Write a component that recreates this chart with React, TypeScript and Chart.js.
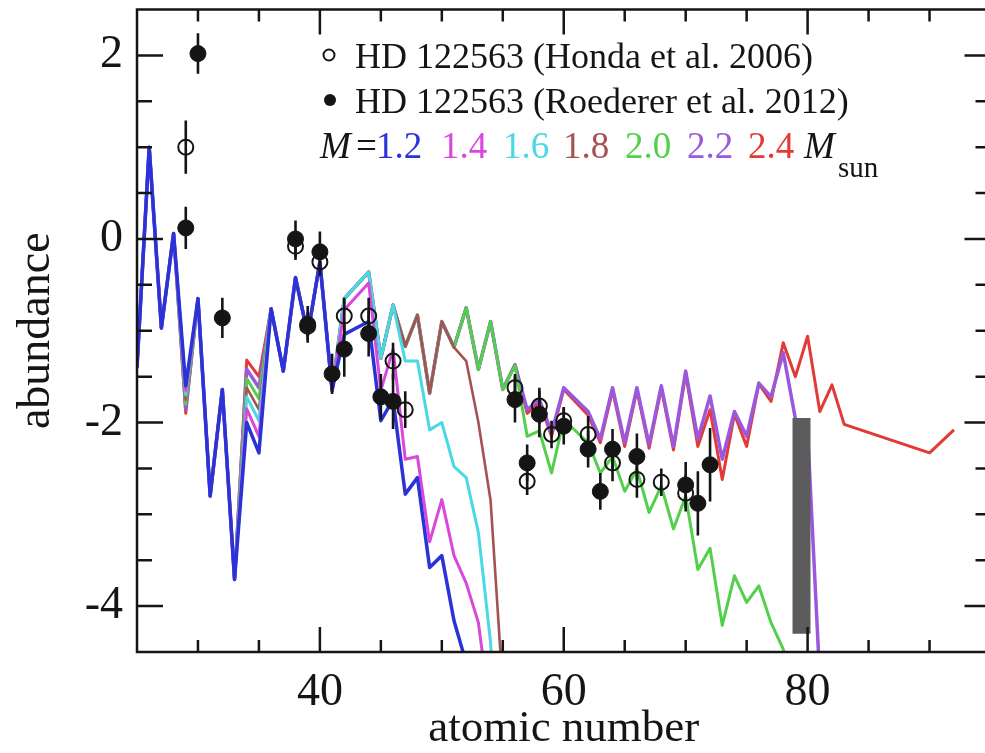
import React, { useEffect, useRef } from "react";
import { Chart, registerables } from "chart.js";

Chart.register(...registerables);

const SERIF = "'Liberation Serif', 'Times New Roman', serif";
const INK = "#151515";

// ---- axis ticks ----
const xMajorTicks = [40, 60, 80];
const xMinorTicks = [30, 35, 45, 50, 55, 65, 70, 75, 85, 90];
const yMajorTicks = [-4, -2, 0, 2];
const yMinorTicks = [-3.5, -3, -2.5, -1.5, -1, -0.5, 0.5, 1, 1.5];

// ---- observations: HD 122563 ----
const hondaZ = [29, 38, 39, 40, 42, 44, 46, 47, 56, 57, 58, 59, 60, 62, 64, 66, 68, 70];
const hondaY = [1.0, -0.08, -0.95, -0.25, -0.84, -0.84, -1.33, -1.86, -1.62, -2.64, -1.82, -2.13, -1.98, -2.13, -2.44, -2.62, -2.65, -2.77];
const hondaErr = [0.29, 0.15, 0.15, 0.15, 0.2, 0.2, 0.2, 0.2, 0.15, 0.15, 0.2, 0.15, 0.15, 0.2, 0.2, 0.2, 0.15, 0.2];

const roedZ = [29, 30, 32, 38, 39, 40, 41, 42, 44, 45, 46, 56, 57, 58, 60, 62, 63, 64, 66, 70, 71, 72];
const roedY = [0.12, 2.02, -0.86, 0.0, -0.93, -0.14, -1.47, -1.2, -1.03, -1.72, -1.77, -1.75, -2.44, -1.91, -2.04, -2.29, -2.75, -2.29, -2.37, -2.68, -2.88, -2.46];
const roedErr = [0.23, 0.22, 0.22, 0.2, 0.2, 0.22, 0.22, 0.3, 0.25, 0.25, 0.3, 0.25, 0.2, 0.25, 0.2, 0.2, 0.2, 0.22, 0.25, 0.25, 0.35, 0.4];

// ---- model curves (atomic number, abundance) ----
const zM12 = [25, 26, 27, 28, 29, 30, 31, 32, 33, 34, 35, 36, 37, 38, 39, 40, 41, 42, 44, 45, 46, 47, 48, 49, 50, 51, 52];
const yM12 = [-1.4, 1.0, -0.97, 0.06, -1.6, -0.65, -2.8, -1.64, -3.71, -2.0, -2.33, -0.76, -1.44, -0.42, -1.04, -0.25, -1.65, -1.04, -0.9, -1.98, -1.75, -2.78, -2.6, -3.58, -3.45, -4.16, -4.62];

const zM14 = [25, 26, 27, 28, 29, 30, 31, 32, 33, 34, 35, 36, 37, 38, 39, 40, 41, 42, 44, 45, 46, 47, 48, 49, 50, 51, 52, 53, 54];
const yM14 = [-1.4, 1.0, -0.97, 0.06, -1.65, -0.65, -2.8, -1.64, -3.71, -1.85, -2.15, -0.76, -1.44, -0.42, -1.04, -0.25, -1.65, -0.77, -0.48, -1.65, -1.2, -2.4, -2.37, -3.3, -2.84, -3.45, -3.75, -4.18, -5.2];

const zM16 = [25, 26, 27, 28, 29, 30, 31, 32, 33, 34, 35, 36, 37, 38, 39, 40, 41, 42, 44, 45, 46, 47, 48, 49, 50, 51, 52, 53, 54, 55];
const yM16 = [-1.4, 1.0, -0.97, 0.06, -1.7, -0.65, -2.8, -1.64, -3.71, -1.72, -1.98, -0.76, -1.44, -0.42, -1.04, -0.25, -1.65, -0.65, -0.36, -1.3, -0.72, -1.33, -1.33, -2.08, -2.0, -2.48, -2.6, -3.2, -4.4, -6.5];

const zM18 = [25, 26, 27, 28, 29, 30, 31, 32, 33, 34, 35, 36, 37, 38, 39, 40, 41, 42, 44, 45, 46, 47, 48, 49, 50, 51, 52, 53, 54, 55];
const yM18 = [-1.4, 1.0, -0.97, 0.06, -1.75, -0.65, -2.8, -1.64, -3.71, -1.62, -1.86, -0.76, -1.44, -0.42, -1.04, -0.25, -1.65, -0.65, -0.36, -1.3, -0.72, -1.17, -0.83, -1.68, -0.9, -1.18, -1.33, -2.0, -2.85, -4.9];

const zM20 = [25, 26, 27, 28, 29, 30, 31, 32, 33, 34, 35, 36, 37, 38, 39, 40, 41, 42, 44, 45, 46, 47, 48, 49, 50, 51, 52, 53, 54, 55, 56, 57, 58, 59, 60, 62, 63, 64, 65, 66, 67, 68, 69, 70, 71, 72, 73, 74, 75, 76, 77, 78, 79];
const yM20 = [-1.4, 1.0, -0.97, 0.06, -1.8, -0.65, -2.8, -1.64, -3.71, -1.52, -1.74, -0.76, -1.44, -0.42, -1.04, -0.25, -1.65, -0.65, -0.36, -1.3, -0.72, -1.17, -0.83, -1.68, -0.9, -1.18, -0.75, -1.42, -0.9, -1.64, -1.38, -2.15, -2.09, -2.55, -1.97, -2.22, -2.55, -2.37, -2.75, -2.51, -2.98, -2.69, -3.16, -2.8, -3.6, -3.37, -4.21, -3.67, -3.96, -3.78, -4.18, -4.47, -5.0];

const zM22 = [25, 26, 27, 28, 29, 30, 31, 32, 33, 34, 35, 36, 37, 38, 39, 40, 41, 42, 44, 45, 46, 47, 48, 49, 50, 51, 52, 53, 54, 55, 56, 57, 58, 59, 60, 62, 63, 64, 65, 66, 67, 68, 69, 70, 71, 72, 73, 74, 75, 76, 77, 78, 79, 80, 81];
const yM22 = [-1.4, 1.0, -0.97, 0.06, -1.85, -0.65, -2.8, -1.64, -3.71, -1.42, -1.62, -0.76, -1.44, -0.42, -1.04, -0.25, -1.65, -0.65, -0.36, -1.3, -0.72, -1.17, -0.83, -1.68, -0.9, -1.18, -0.75, -1.42, -0.9, -1.64, -1.37, -1.86, -1.75, -2.11, -1.62, -1.88, -2.18, -1.62, -2.22, -1.62, -2.24, -1.6, -2.26, -1.44, -2.18, -1.71, -2.4, -1.88, -2.15, -1.57, -1.72, -1.24, -1.96, -2.1, -4.8];

const zM24 = [25, 26, 27, 28, 29, 30, 31, 32, 33, 34, 35, 36, 37, 38, 39, 40, 41, 42, 44, 45, 46, 47, 48, 49, 50, 51, 52, 53, 54, 55, 56, 57, 58, 59, 60, 62, 63, 64, 65, 66, 67, 68, 69, 70, 71, 72, 73, 74, 75, 76, 77, 78, 79, 80, 81, 82, 83, 90, 92];
const yM24 = [-1.4, 1.0, -0.97, 0.06, -1.9, -0.65, -2.8, -1.64, -3.71, -1.32, -1.5, -0.76, -1.44, -0.42, -1.04, -0.25, -1.65, -0.65, -0.36, -1.3, -0.72, -1.17, -0.83, -1.68, -0.9, -1.18, -0.75, -1.42, -0.9, -1.64, -1.37, -1.9, -1.78, -2.15, -1.64, -1.92, -2.22, -1.65, -2.26, -1.65, -2.28, -1.63, -2.3, -1.47, -2.26, -1.86, -2.62, -1.91, -2.26, -1.58, -1.77, -1.13, -1.5, -1.06, -1.88, -1.59, -2.02, -2.33, -2.08];

// gray band near Z = 79.5
const bandZ = [79.5, 79.5];
const bandY = [-1.95, -4.3];

const modelMasses = ["1.2", "1.4", "1.6", "1.8", "2.0", "2.2", "2.4"];
const modelColors = ["#2a32d8", "#d848da", "#48d8e6", "#a55252", "#52d04c", "#9a58dc", "#e23a36"];
const modelWidths = [3.5, 3, 3, 2.6, 3, 3.5, 3];
const modelZ = [zM12, zM14, zM16, zM18, zM20, zM22, zM24];
const modelY = [yM12, yM14, yM16, yM18, yM20, yM22, yM24];

const legendLabels = ["HD 122563 (Honda et al. 2006)", "HD 122563 (Roederer et al. 2012)"];

const pts = (zs: number[], ys: number[]) => zs.map((z, i) => ({ x: z, y: ys[i] }));

const errorBarPlugin = {
  id: "errorBars",
  afterDatasetsDraw(chart: any) {
    const { ctx, chartArea, scales } = chart;
    const xs = scales.x;
    const ys = scales.y;
    ctx.save();
    ctx.beginPath();
    ctx.rect(chartArea.left, chartArea.top, chartArea.right - chartArea.left, chartArea.bottom - chartArea.top);
    ctx.clip();
    ctx.strokeStyle = INK;
    ctx.lineWidth = 2.6;
    chart.data.datasets.forEach((ds: any) => {
      if (!ds.errors) return;
      ds.data.forEach((p: any, i: number) => {
        const px = xs.getPixelForValue(p.x);
        const y1 = ys.getPixelForValue(p.y - ds.errors[i]);
        const y2 = ys.getPixelForValue(p.y + ds.errors[i]);
        ctx.beginPath();
        ctx.moveTo(px, y1);
        ctx.lineTo(px, y2);
        ctx.stroke();
      });
    });
    ctx.restore();
  },
};

const framePlugin = {
  id: "frameTicks",
  afterDraw(chart: any) {
    const { ctx, chartArea, scales } = chart;
    const { left, right, top, bottom } = chartArea;
    ctx.save();
    ctx.strokeStyle = INK;
    ctx.lineWidth = 2.5;
    ctx.strokeRect(left, top, right - left, bottom - top);
    const xTick = (v: number, len: number) => {
      const p = scales.x.getPixelForValue(v);
      ctx.beginPath();
      ctx.moveTo(p, bottom);
      ctx.lineTo(p, bottom - len);
      ctx.moveTo(p, top);
      ctx.lineTo(p, top + len);
      ctx.stroke();
    };
    const yTick = (v: number, len: number) => {
      const p = scales.y.getPixelForValue(v);
      ctx.beginPath();
      ctx.moveTo(left, p);
      ctx.lineTo(left + len, p);
      ctx.moveTo(right, p);
      ctx.lineTo(right - len, p);
      ctx.stroke();
    };
    xMajorTicks.forEach((v) => xTick(v, 25));
    xMinorTicks.forEach((v) => xTick(v, 12));
    yMajorTicks.forEach((v) => yTick(v, 26));
    yMinorTicks.forEach((v) => yTick(v, 15));
    ctx.restore();
  },
};

const legendPlugin = {
  id: "legendText",
  afterDraw(chart: any) {
    const ctx = chart.ctx;
    ctx.save();
    ctx.textAlign = "left";
    ctx.textBaseline = "alphabetic";
    ctx.fillStyle = INK;
    ctx.strokeStyle = INK;
    // open marker
    ctx.lineWidth = 2;
    ctx.beginPath();
    ctx.arc(329, 55, 5.5, 0, Math.PI * 2);
    ctx.stroke();
    // filled marker
    ctx.beginPath();
    ctx.arc(330, 100, 6, 0, Math.PI * 2);
    ctx.fill();
    ctx.font = `36px ${SERIF}`;
    ctx.fillText(legendLabels[0], 355, 68);
    ctx.fillText(legendLabels[1], 355, 113);
    // mass line
    ctx.font = `italic 37px ${SERIF}`;
    ctx.fillText("M", 320, 158);
    ctx.font = `37px ${SERIF}`;
    ctx.fillText("=", 356, 158);
    const xs = [376, 441, 503, 563, 625, 687, 748];
    modelMasses.forEach((m, i) => {
      ctx.fillStyle = modelColors[i];
      ctx.fillText(m, xs[i], 158);
    });
    ctx.fillStyle = INK;
    ctx.font = `italic 37px ${SERIF}`;
    ctx.fillText("M", 804, 158);
    ctx.font = `29px ${SERIF}`;
    ctx.fillText("sun", 838, 177);
    ctx.restore();
  },
};

export default function App() {
  const ref = useRef<HTMLCanvasElement | null>(null);

  useEffect(() => {
    if (!ref.current) return;
    const modelSets = modelZ.map((zs, i) => ({
      label: `M=${modelMasses[i]}`,
      data: pts(zs, modelY[i]),
      showLine: true,
      borderColor: modelColors[i],
      backgroundColor: modelColors[i],
      borderWidth: modelWidths[i],
      borderJoinStyle: "round" as const,
      pointRadius: 0,
      tension: 0,
    }));

    const chart = new Chart(ref.current, {
      type: "scatter",
      data: {
        datasets: [
          {
            label: legendLabels[1],
            data: pts(roedZ, roedY),
            errors: roedErr,
            pointRadius: 8,
            pointBackgroundColor: INK,
            pointBorderColor: INK,
            pointBorderWidth: 1,
            showLine: false,
          } as any,
          {
            label: legendLabels[0],
            data: pts(hondaZ, hondaY),
            errors: hondaErr,
            pointRadius: 7.5,
            pointBackgroundColor: "rgba(0,0,0,0)",
            pointBorderColor: INK,
            pointBorderWidth: 2,
            showLine: false,
          } as any,
          {
            label: "band",
            data: pts(bandZ, bandY),
            showLine: true,
            borderColor: "#5c5c5c",
            borderWidth: 18,
            borderCapStyle: "butt",
            pointRadius: 0,
          } as any,
          ...modelSets,
        ],
      },
      options: {
        animation: false,
        responsive: false,
        events: [],
        layout: { padding: { left: 0, top: 9, right: 7, bottom: 0 } },
        plugins: {
          legend: { display: false },
          tooltip: { enabled: false },
        },
        scales: {
          x: {
            type: "linear",
            position: "bottom",
            min: 25,
            max: 95,
            afterBuildTicks: (s: any) => {
              s.ticks = xMajorTicks.map((v) => ({ value: v }));
            },
            afterFit: (s: any) => {
              s.height = 101;
              s.paddingLeft = 0;
              s.paddingRight = 0;
            },
            grid: { display: false, drawTicks: false },
            border: { display: false },
            ticks: {
              padding: 13,
              color: INK,
              autoSkip: false,
              maxRotation: 0,
              font: { family: SERIF, size: 46 },
            },
            title: {
              display: true,
              text: "atomic number",
              color: INK,
              padding: { top: 0, bottom: 1 },
              font: { family: SERIF, size: 45, lineHeight: 1 },
            },
          },
          y: {
            type: "linear",
            min: -4.5,
            max: 2.5,
            afterBuildTicks: (s: any) => {
              s.ticks = yMajorTicks.map((v) => ({ value: v }));
            },
            afterFit: (s: any) => {
              s.width = 137;
              s.paddingTop = 0;
              s.paddingBottom = 0;
            },
            grid: { display: false, drawTicks: false },
            border: { display: false },
            ticks: {
              padding: 14,
              color: INK,
              autoSkip: false,
              font: { family: SERIF, size: 46 },
            },
            title: {
              display: true,
              text: "abundance",
              color: INK,
              padding: { top: 14, bottom: 0 },
              font: { family: SERIF, size: 46, lineHeight: 1 },
            },
          },
        },
      } as any,
      plugins: [errorBarPlugin, framePlugin, legendPlugin],
    });
    return () => chart.destroy();
  }, []);

  return (
    <div
      style={{
        position: "fixed",
        left: 0,
        top: 0,
        width: 985,
        height: 753,
        overflow: "hidden",
        background: "#ffffff",
      }}
    >
      <canvas ref={ref} width={1000} height={753} style={{ display: "block", width: 1000, height: 753 }} />
    </div>
  );
}
